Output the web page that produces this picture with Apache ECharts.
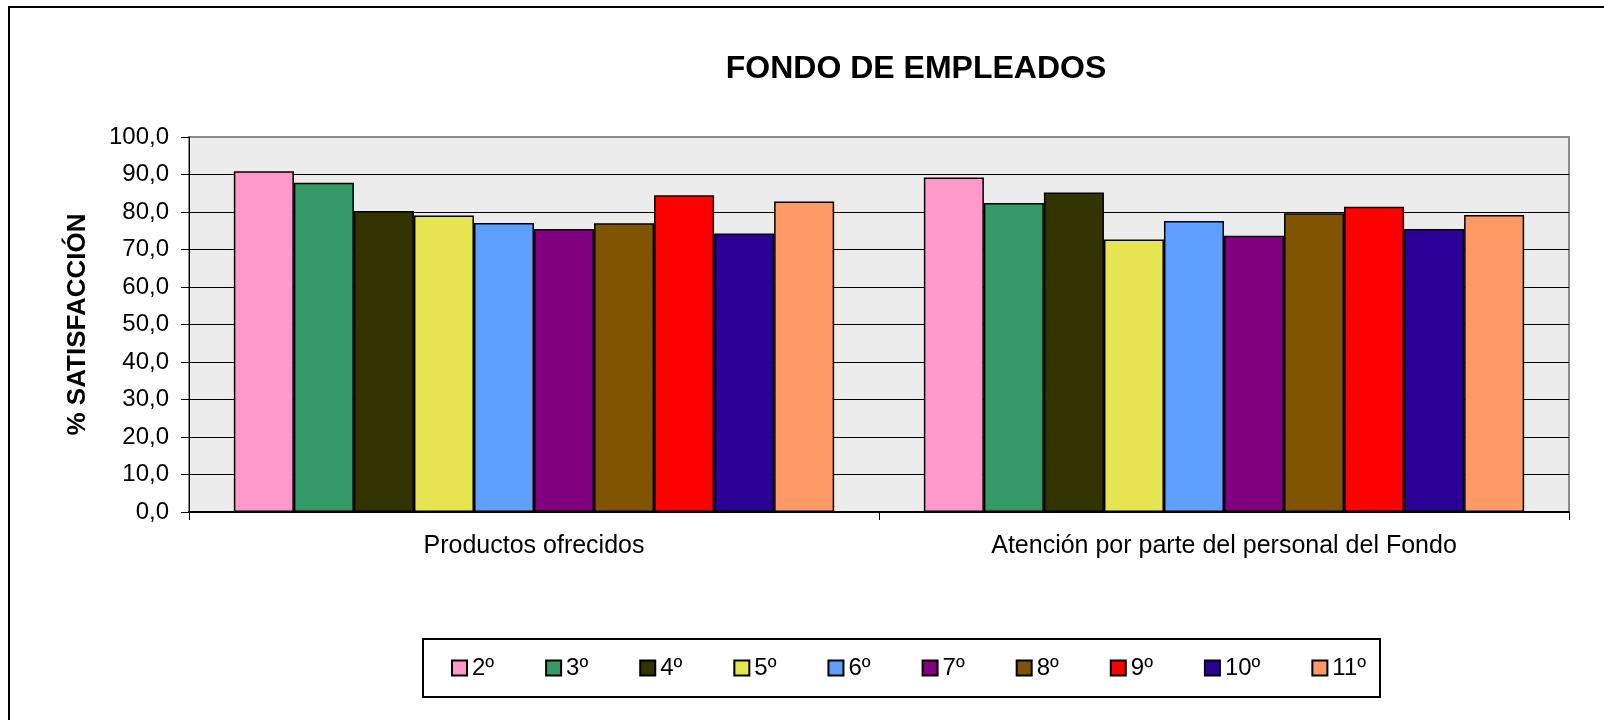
<!DOCTYPE html>
<html>
<head>
<meta charset="utf-8">
<title>Fondo de empleados</title>
<script src="https://cdn.jsdelivr.net/npm/echarts@6/dist/echarts.min.js"></script>
<style>
	html, body { margin: 0; padding: 0; background: #fff; }
	#main_chart { width: 1604px; height: 720px; }
</style>
</head>
<body>
<div id="main_chart"></div>
<script>
var categories = ["Productos ofrecidos", "Atención por parte del personal del Fondo"];
var seriesNames = ["2º", "3º", "4º", "5º", "6º", "7º", "8º", "9º", "10º", "11º"];
var seriesColors = ["#ff99cc", "#339966", "#333300", "#e6e450", "#5e9eff", "#800080", "#805400", "#ff0000", "#2a0096", "#ff9966"];

// valores, uno por cada grado
var val2 = [90.9, 89.2];
var val3 = [87.8, 82.4];
var val4 = [80.3, 85.2];
var val5 = [79.1, 72.7];
var val6 = [77.1, 77.6];
var val7 = [75.5, 73.7];
var val8 = [77.0, 79.7];
var val9 = [84.5, 81.4];
var val10 = [74.3, 75.5];
var val11 = [82.8, 79.2];
var allValues = [val2, val3, val4, val5, val6, val7, val8, val9, val10, val11];

var yTicks = [0, 100, 10]; // min, max, intervalo

var fontName = "Liberation Sans, Arial, sans-serif";

function makeChart() {
	var chart_do = document.getElementById('main_chart');
	var barChart = echarts.init(chart_do);

	var seriesArr = [];
	for (var i = 0; i < seriesNames.length; i++) {
		seriesArr.push({
			name: seriesNames[i],
			type: 'bar',
			data: allValues[i],
			barGap: '0%',
			barCategoryGap: '13%',
			itemStyle: {
				color: seriesColors[i],
				borderColor: '#000',
				borderWidth: 1.5
			}
		});
	}

	var option = {
		animation: false,
		backgroundColor: '#fff',
		textStyle: { fontFamily: fontName },
		graphic: [{
			type: 'rect',
			shape: { x: 9, y: 7, width: 1700, height: 800 },
			style: { fill: 'none', stroke: '#000', lineWidth: 2 },
			silent: true
		}, {
			type: 'rect',
			shape: { x: 423, y: 639, width: 957, height: 58 },
			style: { fill: 'none', stroke: '#000', lineWidth: 2 },
			silent: true
		}, {
			type: 'text',
			x: 916,
			y: 53,
			style: {
				text: 'FONDO DE EMPLEADOS',
				font: 'bold 32px ' + fontName,
				fill: '#000',
				align: 'center',
				textAlign: 'center',
				verticalAlign: 'top',
				textVerticalAlign: 'top'
			}
		}],
		legend: {
			data: seriesNames,
			left: 451,
			top: 656,
			padding: 0,
			itemWidth: 15,
			itemHeight: 15,
			itemGap: 51,
			icon: 'rect',
			textStyle: { fontSize: 24, color: '#000', fontFamily: fontName }
		},
		grid: {
			left: 189,
			right: 35,
			top: 137,
			bottom: 208,
			show: true,
			backgroundColor: '#ececec',
			borderColor: '#8a8a8a',
			borderWidth: 2
		},
		xAxis: {
			type: 'category',
			data: categories,
			axisLine: { lineStyle: { color: '#000', width: 2 } },
			axisTick: { show: true, length: 8, lineStyle: { color: '#000' } },
			axisLabel: { color: '#000', fontSize: 25, margin: 22, fontFamily: fontName }
		},
		yAxis: {
			type: 'value',
			min: yTicks[0],
			max: yTicks[1],
			interval: yTicks[2],
			name: '% SATISFACCIÓN',
			nameLocation: 'middle',
			nameGap: 98,
			nameTextStyle: { fontSize: 26, fontWeight: 'bold', color: '#000', fontFamily: fontName },
			axisLine: { show: true, lineStyle: { color: '#000', width: 1 } },
			axisTick: { show: true, length: 8, lineStyle: { color: '#000' } },
			axisLabel: {
				color: '#000',
				fontSize: 24,
				margin: 20,
				fontFamily: fontName,
				formatter: function(v) {
					return v.toFixed(1).replace('.', ',');
				}
			},
			splitLine: { show: true, showMaxLine: false, lineStyle: { color: '#000', width: 1 } }
		},
		series: seriesArr
	};

	barChart.setOption(option);
}

makeChart();
</script>
</body>
</html>
